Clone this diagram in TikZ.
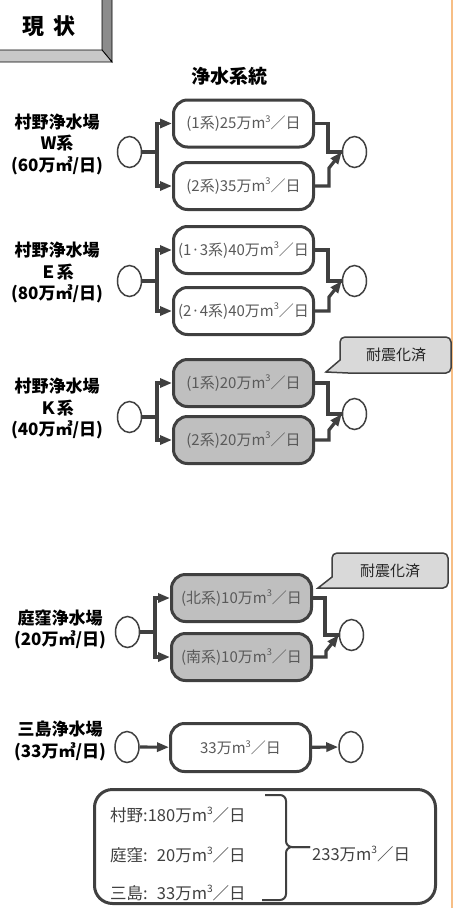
\documentclass[tikz,border=0pt]{standalone}
\usepackage{fontspec}
\usetikzlibrary{shapes.geometric,arrows.meta}
\newfontfamily\jp{Noto Sans CJK JP}
\newcommand\mcube{m\raisebox{0.42em}{\fontsize{0.62em}{0.62em}\selectfont 3}}
\definecolor{dk}{HTML}{404040}
\definecolor{boxgray}{HTML}{BFBFBF}
\definecolor{calgray}{HTML}{D9D9D9}
\definecolor{txtgray}{HTML}{595959}
\definecolor{orangeline}{HTML}{F7BE85}
\definecolor{bevdark}{HTML}{8C8C8C}
\definecolor{bevlight}{HTML}{C8C8C8}
\tikzset{
  proc/.style={draw=dk, line width=3pt, rounded corners=14pt, minimum width=140pt,
    minimum height=47pt, fill=white, text=txtgray, inner sep=0pt,
    font=\jp\fontsize{15}{18}\selectfont},
  procg/.style={proc, fill=boxgray},
  term/.style={draw=dk, line width=1.5pt, ellipse, minimum width=24pt,
    minimum height=31pt, inner sep=0pt, fill=white},
  conn/.style={draw=dk, line width=3.2pt},
  arr/.style={conn, -{Triangle[length=12pt,width=9pt]}},
  lbl/.style={font=\jp\bfseries\fontsize{17}{21.5}\selectfont, align=center, inner sep=0pt},
  callbox/.style={draw=dk, line width=1.5pt, fill=calgray},
  calltext/.style={font=\jp\fontsize{15}{18}\selectfont, text=black!85, inner sep=0pt},
  sumtext/.style={font=\jp\fontsize{16.5}{18}\selectfont, text=dk, inner sep=0pt, anchor=west},
  bracestyle/.style={draw=dk, line width=2pt, rounded corners=6pt}
}
\begin{document}
\begin{tikzpicture}[x=1pt,y=-1pt]
\useasboundingbox (0,0) rectangle (453,908);
\fill[white] (0,0) rectangle (453,908);
\draw[orangeline, line width=1.6pt] (452.2,0) -- (452.2,908);

% header
\fill[white] (-5,-5) rectangle (102,50);
\filldraw[fill=bevdark, draw=black, line width=0.8pt] (102,-5) -- (112,-5) -- (112,62) -- (102,50) -- cycle;
\filldraw[fill=bevlight, draw=black, line width=0.8pt] (-5,50) -- (102,50) -- (112,62) -- (-5,62) -- cycle;
\node[font=\jp\bfseries\fontsize{22}{24}\selectfont, inner sep=0pt] (hdr) at (49,26) {現\hspace{10pt}状};

\node[font=\jp\bfseries\fontsize{19}{22}\selectfont, inner sep=0pt] (title) at (229,76) {浄水系統};

% ---- W
\node[lbl] (lW) at (57,144) {村野浄水場\\W系\\(60万㎥/日)};
\node[term] (inW) at (129.5,152) {};
\node[proc] (w1) at (243.5,123.5) {(1系)25万\mcube／日};
\node[proc] (w2) at (243.5,186) {(2系)35万\mcube／日};
\node[term] (outW) at (354.5,152) {};
\coordinate (jW) at (157,152);
\coordinate (rW) at (328,152);
\coordinate (sW) at (329,168);
\draw[conn] (inW) -- (jW);
\draw[arr] (jW) |- (w1.west);
\draw[arr] (jW) |- (w2.west);
\draw[conn] (w1.east) -| (rW) -- (outW.west);
\draw[arr] (w2.east) -| (sW) -- (outW.west);

% ---- E
\node[lbl] (lE) at (57,272.5) {村野浄水場\\Ｅ系\\(80万㎥/日)};
\node[term] (inE) at (129.5,281) {};
\node[proc] (e1) at (243.5,250) {(1·3系)40万\mcube／日};
\node[proc] (e2) at (243.5,311) {(2·4系)40万\mcube／日};
\node[term] (outE) at (354.5,281) {};
\coordinate (jE) at (157,281);
\coordinate (rE) at (328,281);
\coordinate (sE) at (329,297);
\draw[conn] (inE) -- (jE);
\draw[arr] (jE) |- (e1.west);
\draw[arr] (jE) |- (e2.west);
\draw[conn] (e1.east) -| (rE) -- (outE.west);
\draw[arr] (e2.east) -| (sE) -- (outE.west);

% ---- K
\node[lbl] (lK) at (57,408.5) {村野浄水場\\Ｋ系\\(40万㎥/日)};
\node[term] (inK) at (129.5,417) {};
\node[procg] (k1) at (243.5,383) {(1系)20万\mcube／日};
\node[procg] (k2) at (243.5,440) {(2系)20万\mcube／日};
\node[term] (outK) at (354.5,414) {};
\coordinate (jK) at (157,417);
\coordinate (rK) at (328,414);
\coordinate (sK) at (329,430);
\draw[conn] (inK) -- (jK);
\draw[arr] (jK) |- (k1.west);
\draw[arr] (jK) |- (k2.west);
\draw[conn] (k1.east) -| (rK) -- (outK.west);
\draw[arr] (k2.east) -| (sK) -- (outK.west);
\draw[callbox] (326,372) -- (340,360) {[rounded corners=5pt] -- (340,337) -- (451,337) -- (451,373)} -- (348,373) -- cycle;
\node[calltext] (cK) at (396,355) {耐震化済};

% ---- Niwakubo
\node[lbl] (lN) at (60,629.5) {庭窪浄水場\\(20万㎥/日)};
\node[term] (inN) at (127.5,632) {};
\node[procg] (n1) at (241.5,598) {(北系)10万\mcube／日};
\node[procg] (n2) at (241.5,657) {(南系)10万\mcube／日};
\node[term] (outN) at (351.5,635) {};
\coordinate (jN) at (155,632);
\coordinate (rN) at (325,635);
\coordinate (sN) at (326,651);
\draw[conn] (inN) -- (jN);
\draw[arr] (jN) |- (n1.west);
\draw[arr] (jN) |- (n2.west);
\draw[conn] (n1.east) -| (rN) -- (outN.west);
\draw[arr] (n2.east) -| (sN) -- (outN.west);
\draw[callbox] (318,588) -- (332,577) {[rounded corners=5pt] -- (332,553) -- (448,553) -- (448,588)} -- (343,588) -- cycle;
\node[calltext] (cN) at (390,571) {耐震化済};

% ---- Mishima
\node[lbl] (lM) at (60,741) {三島浄水場\\(33万㎥/日)};
\node[term] (inM) at (127,747) {};
\node[proc, minimum height=48pt] (m1) at (240.5,747.5) {33万\mcube／日};
\node[term] (outM) at (351,747) {};
\draw[arr] (inM) -- (m1);
\draw[arr] (m1) -- (outM);

% ---- summary
\node[draw=dk, line width=3pt, rounded corners=18pt, minimum width=341pt, minimum height=114pt, inner sep=0pt] (sum) at (265,846.5) {};
\node[sumtext] (s1) at (110,815) {村野:180万\mcube／日};
\node[sumtext] (s2) at (110,855) {庭窪:\phantom{1}20万\mcube／日};
\node[sumtext] (s3) at (110,893) {三島:\phantom{1}33万\mcube／日};
\coordinate (bt) at (310,847);
\draw[bracestyle] (265,795) -- (286,795) -- (286,847) -- (bt);
\draw[bracestyle] (262,900) -- (286,900) -- (286,847) -- (bt);
\node[sumtext] (tot) at (312,854) {233万\mcube／日};
\end{tikzpicture}
\end{document}
